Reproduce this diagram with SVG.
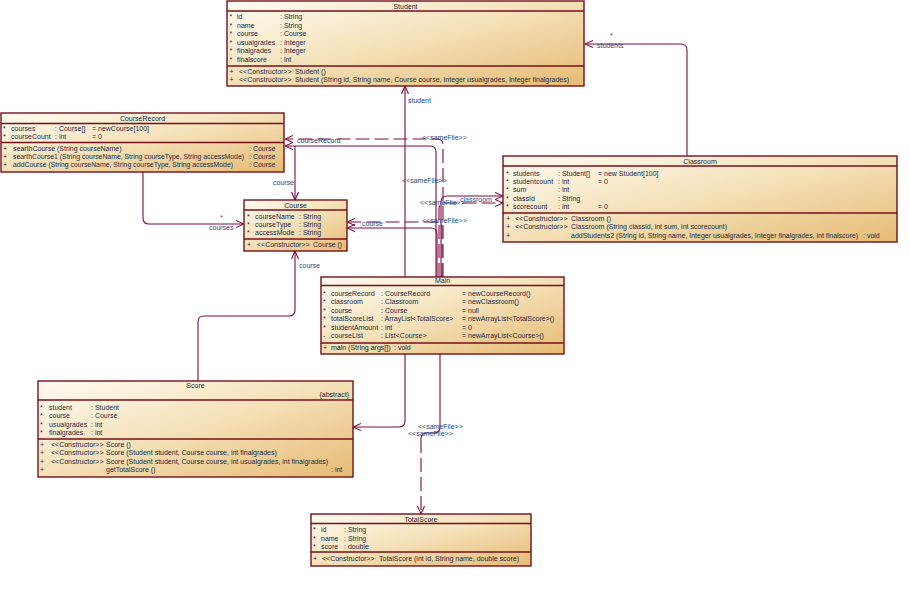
<svg xmlns="http://www.w3.org/2000/svg" width="910" height="593" viewBox="0 0 910 593">
<defs>
<linearGradient id="bg" x1="0" y1="0" x2="1" y2="1">
<stop offset="0" stop-color="#fffbf3"/>
<stop offset="0.45" stop-color="#f6e3bd"/>
<stop offset="1" stop-color="#e6bb74"/>
</linearGradient>
<marker id="arr" viewBox="0 0 8 8" refX="8" refY="4" markerWidth="8" markerHeight="8" markerUnits="userSpaceOnUse" orient="auto">
<path d="M0,0.5 L8,4 L0,7.5" fill="none" stroke="#7d0b3f" stroke-width="1.1"/>
</marker>
</defs>
<style>
.box{fill:url(#bg);stroke:#741018;stroke-width:1.4}
.sep{stroke:#741018;stroke-width:1.4}
text{font-family:"Liberation Sans",Arial,sans-serif;font-size:7px;fill:#1e2a44}
.t{text-anchor:middle}
.lbl{fill:#1f4a86}
.c{fill:none;stroke:#7d0b3f;stroke-width:1.1}
.d{stroke-dasharray:14 5}
.m{marker-end:url(#arr)}
</style>

<rect width="910" height="593" fill="#ffffff"/>

<g id="connectors">
<path class="c m" d="M687 156 V50 Q687 44 681 44 H585"/>
<path class="c m" d="M405 277 V86"/>
<path class="c m" d="M436 277 V152 Q436 146 430 146 H285"/>
<path class="c d m" d="M443 277 V145 Q443 139 437 139 H285"/>
<path class="c m" d="M295 146 V200"/>
<path class="c m" d="M441 277 V202 Q441 196 447 196 H503"/>
<path class="c d m" d="M439 277 V209 Q439 203 445 203 H503"/>
<path class="c d m" d="M442 277 V228 Q442 222 436 222 H347"/>
<path class="c m" d="M437 277 V234 Q437 228 431 228 H347"/>
<path class="c m" d="M143 172 V218 Q143 224 149 224 H244"/>
<path class="c m" d="M198 381 V322 Q198 316 204 316 H289 Q295 316 295 310 V251"/>
<path class="c m" d="M405 354 V421 Q405 427 399 427 H353"/>
<path class="c" d="M440 354 V427 Q440 433 434 433 H427 Q421 433 421 439"/>
<path class="c d m" d="M421 439 V514"/>
<g id="connector-labels">
<text class="lbl" x="610" y="38">*</text>
<text class="lbl" x="597" y="48">students</text>
<text class="lbl" x="408" y="103">student</text>
<text class="lbl" x="297" y="142.5">courseRecord</text>
<text class="lbl" x="422" y="140">&lt;&lt;sameFile&gt;&gt;</text>
<text class="lbl" x="273" y="185">course</text>
<text class="lbl" x="402" y="183">&lt;&lt;sameFile&gt;&gt;</text>
<text class="lbl" x="460" y="201.5">classroom</text>
<text class="lbl" x="420" y="204.5">&lt;&lt;sameFile&gt;&gt;</text>
<text class="lbl" x="422" y="222.5">&lt;&lt;sameFile&gt;&gt;</text>
<text class="lbl" x="362" y="225.5">course</text>
<text class="lbl" x="220" y="220">*</text>
<text class="lbl" x="209" y="230">courses</text>
<text class="lbl" x="299" y="268">course</text>
<text class="lbl" x="418" y="429">&lt;&lt;sameFile&gt;&gt;</text>
<text class="lbl" x="408" y="436">&lt;&lt;sameFile&gt;&gt;</text>
</g>
</g>

<g id="Student">
<rect class="box" x="227" y="1" width="357" height="85"/>
<line class="sep" x1="227" y1="11" x2="584" y2="11"/>
<line class="sep" x1="227" y1="66" x2="584" y2="66"/>
<text class="t" x="405.5" y="8.5">Student</text>
<text x="229.5" y="19">*</text><text x="237" y="19">id</text><text x="280" y="19">: String</text>
<text x="229.5" y="27.5">*</text><text x="237" y="27.5">name</text><text x="280" y="27.5">: String</text>
<text x="229.5" y="36">*</text><text x="237" y="36">course</text><text x="280" y="36">: Course</text>
<text x="229.5" y="44.5">*</text><text x="237" y="44.5">usualgrades</text><text x="280" y="44.5">: Integer</text>
<text x="229.5" y="53">*</text><text x="237" y="53">finalgrades</text><text x="280" y="53">: Integer</text>
<text x="229.5" y="61.5">*</text><text x="237" y="61.5">finalscore</text><text x="280" y="61.5">: int</text>
<text x="229.5" y="73.5">+</text><text x="239" y="73.5">&lt;&lt;Constructor&gt;&gt;</text><text x="295" y="73.5">Student ()</text>
<text x="229.5" y="82">+</text><text x="239" y="82">&lt;&lt;Constructor&gt;&gt;</text><text x="295" y="82" textLength="274" lengthAdjust="spacingAndGlyphs">Student (String id, String name, Course course, Integer usualgrades, Integer finalgrades)</text>
</g>

<g id="CourseRecord">
<rect class="box" x="1" y="113" width="283" height="59"/>
<line class="sep" x1="1" y1="123.5" x2="284" y2="123.5"/>
<line class="sep" x1="1" y1="142.5" x2="284" y2="142.5"/>
<text class="t" x="142.5" y="120.5">CourseRecord</text>
<text x="3" y="131">*</text><text x="11" y="131">courses</text><text x="55" y="131">: Course[]</text><text x="92" y="131">= newCourse[100]</text>
<text x="3" y="139">*</text><text x="11" y="139">courseCount</text><text x="55" y="139">: int</text><text x="92" y="139">= 0</text>
<text x="3" y="150.5">+</text><text x="13" y="150.5">searthCourse (String courseName)</text><text x="249" y="150.5">: Course</text>
<text x="3" y="158.5">+</text><text x="13" y="158.5" textLength="231" lengthAdjust="spacingAndGlyphs">searthCourse1 (String courseName, String courseType, String accessMode)</text><text x="249" y="158.5">: Course</text>
<text x="3" y="166.5">+</text><text x="13" y="166.5" textLength="220" lengthAdjust="spacingAndGlyphs">addCourse (String courseName, String courseType, String accessMode)</text><text x="249" y="166.5">: Course</text>
</g>

<g id="Classroom">
<rect class="box" x="503" y="156" width="394" height="86"/>
<line class="sep" x1="503" y1="166" x2="897" y2="166"/>
<line class="sep" x1="503" y1="213" x2="897" y2="213"/>
<text class="t" x="700" y="163.5">Classroom</text>
<text x="506" y="175.5">*</text><text x="513" y="175.5">students</text><text x="558" y="175.5">: Student[]</text><text x="598" y="175.5">= new Student[100]</text>
<text x="506" y="183.5">*</text><text x="513" y="183.5">studentcount</text><text x="558" y="183.5">: int</text><text x="598" y="183.5">= 0</text>
<text x="506" y="192">*</text><text x="513" y="192">sum</text><text x="558" y="192">: int</text>
<text x="506" y="200.5">*</text><text x="513" y="200.5">classId</text><text x="558" y="200.5">: String</text>
<text x="506" y="208.5">*</text><text x="513" y="208.5">scorecount</text><text x="558" y="208.5">: int</text><text x="598" y="208.5">= 0</text>
<text x="506" y="220.5">+</text><text x="515" y="220.5">&lt;&lt;Constructor&gt;&gt;</text><text x="571" y="220.5">Classroom ()</text>
<text x="506" y="229">+</text><text x="515" y="229">&lt;&lt;Constructor&gt;&gt;</text><text x="571" y="229">Classroom (String classId, int sum, int scorecount)</text>
<text x="506" y="237.5">+</text><text x="571" y="237.5" textLength="287" lengthAdjust="spacingAndGlyphs">addStudents2 (String id, String name, Integer usualgrades, Integer finalgrades, int finalscore)</text><text x="863" y="237.5">: void</text>
</g>

<g id="Course">
<rect class="box" x="244" y="200" width="103" height="51"/>
<line class="sep" x1="244" y1="210" x2="347" y2="210"/>
<line class="sep" x1="244" y1="239" x2="347" y2="239"/>
<text class="t" x="295.5" y="207.5">Course</text>
<text x="247" y="218.5">*</text><text x="255" y="218.5">courseName</text><text x="299" y="218.5">: String</text>
<text x="247" y="226.5">*</text><text x="255" y="226.5">courseType</text><text x="299" y="226.5">: String</text>
<text x="247" y="234.5">*</text><text x="255" y="234.5">accessMode</text><text x="299" y="234.5">: String</text>
<text x="247" y="246.5">+</text><text x="257" y="246.5">&lt;&lt;Constructor&gt;&gt;</text><text x="313" y="246.5">Course ()</text>
</g>

<g id="Main">
<rect class="box" x="321" y="277" width="243" height="77"/>
<line class="sep" x1="321" y1="285.5" x2="564" y2="285.5"/>
<line class="sep" x1="321" y1="343" x2="564" y2="343"/>
<text class="t" x="442.5" y="283">Main</text>
<text x="323" y="295.5">*</text><text x="331" y="295.5">courseRecord</text><text x="381" y="295.5">: CourseRecord</text><text x="462" y="295.5">= newCourseRecord()</text>
<text x="323" y="304">*</text><text x="331" y="304">classroom</text><text x="381" y="304">: Classroom</text><text x="462" y="304">= newClassroom()</text>
<text x="323" y="312.5">*</text><text x="331" y="312.5">course</text><text x="381" y="312.5">: Course</text><text x="462" y="312.5">= null</text>
<text x="323" y="321">*</text><text x="331" y="321">totalScoreList</text><text x="381" y="321">: ArrayList&lt;TotalScore&gt;</text><text x="462" y="321">= newArrayList&lt;TotalScore&gt;()</text>
<text x="323" y="329.5">*</text><text x="331" y="329.5">studentAmount</text><text x="381" y="329.5">: int</text><text x="462" y="329.5">= 0</text>
<text x="323" y="338">-</text><text x="331" y="338">courseList</text><text x="381" y="338">: List&lt;Course&gt;</text><text x="462" y="338">= newArrayList&lt;Course&gt;()</text>
<text x="323" y="350">+</text><text x="331" y="350">main (String args[])</text><text x="394" y="350">: void</text>
</g>

<g id="Score">
<rect class="box" x="38" y="381" width="315" height="96"/>
<line class="sep" x1="38" y1="400" x2="353" y2="400"/>
<line class="sep" x1="38" y1="439" x2="353" y2="439"/>
<text class="t" x="195.5" y="387.5">Score</text>
<text x="349" y="397" text-anchor="end">{abstract}</text>
<text x="40" y="409.5">*</text><text x="49" y="409.5">student</text><text x="91" y="409.5">: Student</text>
<text x="40" y="418">*</text><text x="49" y="418">course</text><text x="91" y="418">: Course</text>
<text x="40" y="426.5">*</text><text x="49" y="426.5">usualgrades</text><text x="91" y="426.5">: int</text>
<text x="40" y="435">*</text><text x="49" y="435">finalgrades</text><text x="91" y="435">: int</text>
<text x="40" y="446.5">+</text><text x="51" y="446.5">&lt;&lt;Constructor&gt;&gt;</text><text x="106" y="446.5">Score ()</text>
<text x="40" y="455">+</text><text x="51" y="455">&lt;&lt;Constructor&gt;&gt;</text><text x="106" y="455">Score (Student student, Course course, int finalgrades)</text>
<text x="40" y="463.5">+</text><text x="51" y="463.5">&lt;&lt;Constructor&gt;&gt;</text><text x="106" y="463.5">Score (Student student, Course course, int usualgrades, int finalgrades)</text>
<text x="40" y="472">+</text><text x="106" y="472">getTotalScore ()</text><text x="331" y="472">: int</text>
</g>

<g id="TotalScore">
<rect class="box" x="311" y="514" width="220" height="52"/>
<line class="sep" x1="311" y1="523.5" x2="531" y2="523.5"/>
<line class="sep" x1="311" y1="552" x2="531" y2="552"/>
<text class="t" x="421" y="521.5">TotalScore</text>
<text x="313" y="532">*</text><text x="321" y="532">id</text><text x="344" y="532">: String</text>
<text x="313" y="540.5">*</text><text x="321" y="540.5">name</text><text x="344" y="540.5">: String</text>
<text x="313" y="549">*</text><text x="321" y="549">score</text><text x="344" y="549">: double</text>
<text x="313" y="561">+</text><text x="322" y="561">&lt;&lt;Constructor&gt;&gt;</text><text x="379" y="561">TotalScore (int id, String name, double score)</text>
</g>
</svg>
